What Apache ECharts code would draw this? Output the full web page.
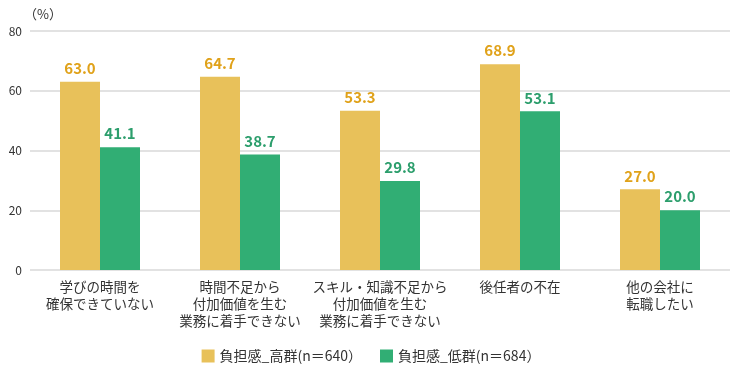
<!DOCTYPE html>
<html><head><meta charset="utf-8">
<script src="https://cdn.jsdelivr.net/npm/echarts@6/dist/echarts.min.js"></script>
<style>html,body{margin:0;padding:0;background:#fff}#c{width:742px;height:380px}</style>
</head><body><div id="c"></div>
<script>
const categories = ['学びの時間を\n確保できていない','時間不足から\n付加価値を生む\n業務に着手できない','スキル・知識不足から\n付加価値を生む\n業務に着手できない','後任者の不在','他の会社に\n転職したい'];
const highValues = [63.0, 64.7, 53.3, 68.9, 27.0];
const lowValues = [41.1, 38.7, 29.8, 53.1, 20.0];
const seriesNames = ['負担感_高群(n＝640）','負担感_低群(n＝684）'];
const yTicks = [0, 20, 40, 60, 80];

const font = '"Noto Sans CJK JP", "Noto Sans", sans-serif';
const chart = echarts.init(document.getElementById('c'));
chart.setOption({
  animation: false,
  textStyle: {fontFamily: font},
  grid: {left: 30, right: 12, top: 31, bottom: 110, containLabel: false},
  legend: {
    bottom: 12, left: 'center', itemWidth: 13, itemHeight: 13, itemGap: 18,
    icon: 'rect',
    textStyle: {fontSize: 14, color: '#333', fontFamily: font}
  },
  xAxis: {
    type: 'category', data: categories,
    axisLine: {show: false}, axisTick: {show: false},
    axisLabel: {fontSize: 13.5, color: '#333', lineHeight: 17, margin: 8, interval: 0, fontFamily: font}
  },
  yAxis: {
    type: 'value', min: yTicks[0], max: yTicks[yTicks.length-1], interval: 20,
    name: '（%）', nameLocation: 'end', nameGap: 10,
    nameTextStyle: {fontSize: 13, color: '#333', align: 'left', padding: [0,0,0,-6]},
    axisLabel: {fontSize: 12, color: '#333', margin: 8},
    splitLine: {lineStyle: {color: '#e2e2e2', width: 2}},
    axisLine: {show: false}, axisTick: {show: false}
  },
  series: [
    {name: seriesNames[0], type: 'bar', data: highValues, barWidth: 40, barGap: '0%',
     itemStyle: {color: '#E8C15A'},
     label: {show: true, position: 'top', distance: 6, formatter: p => p.value.toFixed(1),
       color: '#E0A21A', fontSize: 15, fontWeight: 'bold', fontFamily: font}},
    {name: seriesNames[1], type: 'bar', data: lowValues, barWidth: 40,
     itemStyle: {color: '#31AE74'},
     label: {show: true, position: 'top', distance: 6, formatter: p => p.value.toFixed(1),
       color: '#2C9E6C', fontSize: 15, fontWeight: 'bold', fontFamily: font}}
  ]
});
</script></body></html>
